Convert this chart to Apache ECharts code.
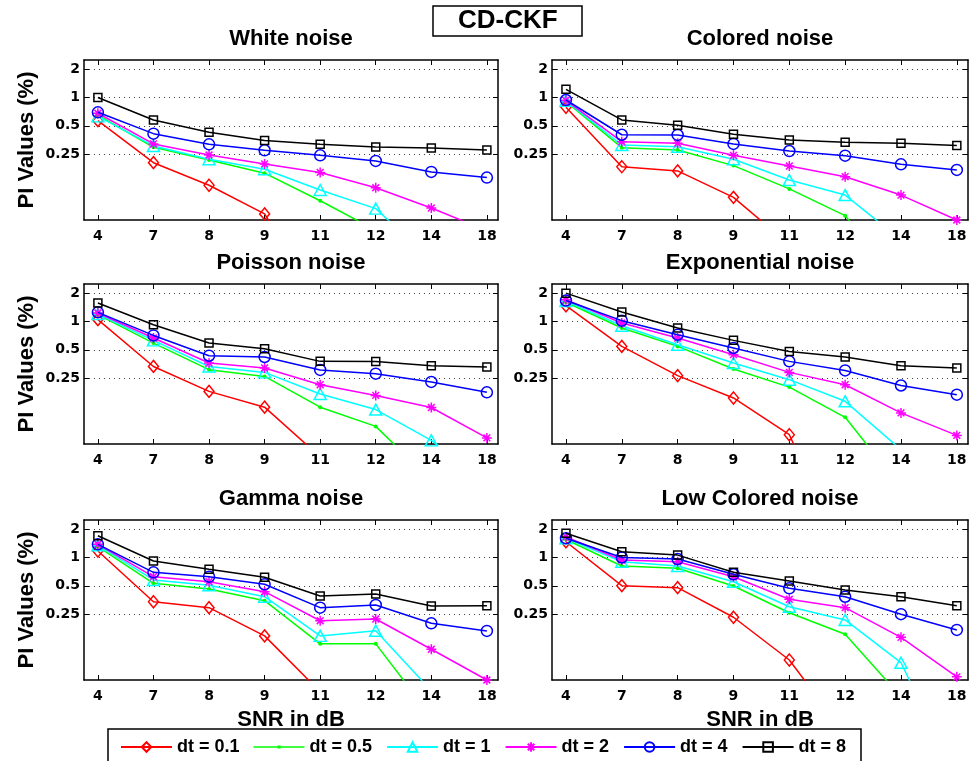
<!DOCTYPE html>
<html>
<head>
<meta charset="utf-8">
<script src="https://cdn.jsdelivr.net/npm/echarts@6/dist/echarts.min.js"></script>
<style>
  html, body { margin: 0; padding: 0; background: #fff; }
  #chart { width: 974px; height: 761px; }
</style>
</head>
<body>
<div id="chart"></div>
<script>
// SNR levels on the x axis (evenly spaced, one slot per level)
const snrLabels = ['4', '7', '8', '9', '11', '12', '14', '18'];
// sampling steps, one curve each
const seriesNames = ['dt = 0.1', 'dt = 0.5', 'dt = 1', 'dt = 2', 'dt = 4', 'dt = 8'];
const panelTitles = ['White noise', 'Colored noise', 'Poisson noise', 'Exponential noise', 'Gamma noise', 'Low Colored noise'];
const yTickValues = [0.25, 0.5, 1, 2];

// PI values (%) per noise type; rows follow seriesNames, columns follow snrLabels
const whiteNoise = [
  [0.567, 0.203, 0.117, 0.058, 0.0068, 0.004, 0.002, 0.001],
  [0.65, 0.296, 0.217, 0.157, 0.080, 0.039, 0.02, 0.01],
  [0.63, 0.306, 0.221, 0.173, 0.104, 0.066, 0.019, 0.01],
  [0.68, 0.321, 0.245, 0.197, 0.160, 0.110, 0.067, 0.0385],
  [0.696, 0.413, 0.318, 0.275, 0.243, 0.212, 0.162, 0.141],
  [1.0, 0.577, 0.427, 0.35, 0.318, 0.298, 0.29, 0.277]
];
const coloredNoise = [
  [0.786, 0.184, 0.166, 0.087, 0.0274, 0.012, 0.006, 0.003],
  [0.90, 0.293, 0.277, 0.189, 0.107, 0.0556, 0.0107, 0.005],
  [0.92, 0.313, 0.30, 0.221, 0.133, 0.092, 0.0308, 0.015],
  [0.93, 0.339, 0.326, 0.243, 0.187, 0.144, 0.092, 0.05],
  [0.94, 0.402, 0.40, 0.321, 0.27, 0.241, 0.195, 0.17],
  [1.22, 0.577, 0.506, 0.406, 0.354, 0.334, 0.326, 0.31]
];
const poissonNoise = [
  [1.045, 0.333, 0.181, 0.123, 0.0365, 0.015, 0.007, 0.003],
  [1.18, 0.59, 0.308, 0.261, 0.123, 0.0769, 0.0205, 0.008],
  [1.2, 0.63, 0.333, 0.288, 0.17, 0.116, 0.0546, 0.02],
  [1.23, 0.667, 0.362, 0.321, 0.213, 0.164, 0.122, 0.058],
  [1.25, 0.711, 0.433, 0.42, 0.306, 0.279, 0.228, 0.177],
  [1.57, 0.924, 0.591, 0.514, 0.377, 0.375, 0.339, 0.329]
];
const exponentialNoise = [
  [1.47, 0.544, 0.266, 0.154, 0.0627, 0.0033, 0.002, 0.001],
  [1.6, 0.853, 0.544, 0.313, 0.201, 0.096, 0.0173, 0.008],
  [1.65, 0.902, 0.567, 0.362, 0.241, 0.142, 0.0436, 0.02],
  [1.7, 0.963, 0.667, 0.444, 0.288, 0.213, 0.107, 0.0617],
  [1.67, 1.02, 0.724, 0.523, 0.377, 0.302, 0.209, 0.167],
  [2.0, 1.26, 0.853, 0.63, 0.481, 0.42, 0.339, 0.321]
];
const gammaNoise = [
  [1.17, 0.339, 0.293, 0.147, 0.0375, 0.015, 0.007, 0.003],
  [1.3, 0.532, 0.463, 0.348, 0.121, 0.121, 0.0205, 0.008],
  [1.35, 0.577, 0.506, 0.383, 0.147, 0.167, 0.0385, 0.015],
  [1.38, 0.625, 0.553, 0.433, 0.213, 0.222, 0.106, 0.05],
  [1.38, 0.696, 0.625, 0.519, 0.293, 0.313, 0.2, 0.166],
  [1.70, 0.918, 0.749, 0.616, 0.39, 0.41, 0.306, 0.308]
];
const lowColoredNoise = [
  [1.47, 0.502, 0.478, 0.232, 0.0815, 0.0133, 0.006, 0.003],
  [1.55, 0.812, 0.767, 0.498, 0.259, 0.153, 0.0332, 0.01],
  [1.6, 0.902, 0.812, 0.553, 0.3, 0.217, 0.0763, 0.0045],
  [1.65, 0.94, 0.902, 0.625, 0.36, 0.293, 0.142, 0.054],
  [1.6, 1.0, 0.963, 0.663, 0.471, 0.383, 0.25, 0.17],
  [1.81, 1.15, 1.06, 0.696, 0.563, 0.452, 0.383, 0.308]
];

const panels = [whiteNoise, coloredNoise, poissonNoise, exponentialNoise, gammaNoise, lowColoredNoise];

// line colour + marker for each dt
const ASTERISK = 'path://M5,0L5,10M0,5L10,5M1.6,1.6L8.4,8.4M1.6,8.4L8.4,1.6';
// legend swatch for the point-marker curve: a line with a tiny dot in the middle
const DOT_LINE_ICON = 'path://M0,0M51,12M0,5.25L51,5.25L51,6.75L0,6.75ZM24,4.5L27,4.5L27,7.5L24,7.5Z';
const curveStyles = [
  { color: '#ff0000', symbol: 'diamond', size: [10, 12], hollow: true },
  { color: '#00ff00', symbol: 'circle', size: 4, hollow: false, legendIcon: DOT_LINE_ICON },
  { color: '#00ffff', symbol: 'triangle', size: [12, 11], hollow: true },
  { color: '#ff00ff', symbol: ASTERISK, size: 10, hollow: true },
  { color: '#0000ff', symbol: 'circle', size: 11, hollow: true },
  { color: '#000000', symbol: 'rect', size: 8, hollow: true }
];

const SANS = '"Liberation Sans", Arial, Helvetica, sans-serif';
const TICK_FONT = '"DejaVu Sans", Verdana, sans-serif';

const gridLeft = [84, 552];
const gridWidth = [414, 416];
const gridTop = [60, 284, 520];
const gridHeight = 160;

const xIndexValues = snrLabels.map((_, k) => k);

const grids = [], xAxes = [], yAxes = [], series = [], titles = [];

titles.push({
  text: 'CD-CKF',
  left: 433, top: 6,
  padding: [2, 25, 2, 25],
  borderColor: '#000', borderWidth: 1.5,
  textStyle: { fontFamily: SANS, fontSize: 26, fontWeight: 'bold', color: '#000' }
});

panels.forEach((rows, i) => {
  const col = i % 2, row = Math.floor(i / 2);
  grids.push({
    left: gridLeft[col], top: gridTop[row], width: gridWidth[col], height: gridHeight,
    containLabel: false, outerBoundsMode: 'none'
  });
  titles.push({
    text: panelTitles[i],
    left: gridLeft[col] + gridWidth[col] / 2,
    top: gridTop[row] - 32,
    textAlign: 'center',
    padding: 0,
    textStyle: { fontFamily: SANS, fontSize: 22, fontWeight: 'bold', color: '#000' }
  });
});

const axisLine = { show: true, onZero: false, lineStyle: { color: '#000', width: 1.5 } };

// bottom x axes
panels.forEach((_, i) => {
  const row = Math.floor(i / 2);
  xAxes.push({
    type: 'value', gridIndex: i, position: 'bottom',
    min: -0.25, max: 7.2,
    axisLine: axisLine,
    axisTick: { show: true, inside: true, length: 5, customValues: xIndexValues, lineStyle: { color: '#000', width: 1 } },
    axisLabel: {
      customValues: xIndexValues, margin: 9,
      formatter: v => snrLabels[Math.round(v)],
      fontFamily: TICK_FONT, fontSize: 14, fontWeight: 'bold', color: '#000'
    },
    splitLine: { show: false },
    name: row === 2 ? 'SNR in dB' : '',
    nameLocation: 'middle', nameGap: 29, nameMoveOverlap: false,
    nameTextStyle: { fontFamily: SANS, fontSize: 22, fontWeight: 'bold', color: '#000' }
  });
});
// top x axes (box edge with inward ticks)
panels.forEach((_, i) => {
  xAxes.push({
    type: 'value', gridIndex: i, position: 'top',
    min: -0.25, max: 7.2,
    axisLine: axisLine,
    axisTick: { show: true, inside: true, length: 5, customValues: xIndexValues, lineStyle: { color: '#000', width: 1 } },
    axisLabel: { show: false, customValues: xIndexValues },
    splitLine: { show: false }
  });
});
// left y axes (log scale)
panels.forEach((_, i) => {
  const col = i % 2;
  yAxes.push({
    type: 'log', logBase: 2, gridIndex: i, position: 'left',
    min: 0.05, max: 2.5,
    axisLine: axisLine,
    axisTick: { show: true, inside: true, length: 5, customValues: yTickValues, lineStyle: { color: '#000', width: 1 } },
    axisLabel: {
      customValues: yTickValues, margin: 4,
      formatter: v => String(v),
      fontFamily: TICK_FONT, fontSize: 14, fontWeight: 'bold', color: '#000'
    },
    splitLine: { show: true, lineStyle: { color: '#444', width: 1, type: [1, 4] } },
    minorTick: { show: false }, minorSplitLine: { show: false },
    name: col === 0 ? 'PI Values (%)' : '',
    nameLocation: 'middle', nameGap: 46, nameMoveOverlap: false,
    nameTextStyle: { fontFamily: SANS, fontSize: 22, fontWeight: 'bold', color: '#000' }
  });
});
// right y axes (box edge with inward ticks)
panels.forEach((_, i) => {
  yAxes.push({
    type: 'log', logBase: 2, gridIndex: i, position: 'right',
    min: 0.05, max: 2.5,
    axisLine: axisLine,
    axisTick: { show: true, inside: true, length: 5, customValues: yTickValues, lineStyle: { color: '#000', width: 1 } },
    axisLabel: { show: false, customValues: yTickValues },
    splitLine: { show: false }
  });
});

panels.forEach((rows, i) => {
  rows.forEach((values, s) => {
    const st = curveStyles[s];
    series.push({
      type: 'line',
      name: seriesNames[s],
      xAxisIndex: i, yAxisIndex: i,
      data: values.map((v, k) => [k, v]),
      symbol: st.symbol,
      symbolSize: st.size,
      showSymbol: true,
      clip: true,
      lineStyle: { color: st.color, width: 1.5 },
      itemStyle: st.hollow
        ? { color: 'rgba(255,255,255,0)', borderColor: st.color, borderWidth: 1.5 }
        : { color: st.color, borderColor: st.color, borderWidth: 0 },
      emphasis: { disabled: true },
      z: 2 + s
    });
  });
});

const legendData = seriesNames.map((name, s) =>
  curveStyles[s].legendIcon ? { name: name, icon: curveStyles[s].legendIcon } : { name: name }
);

const chart = echarts.init(document.getElementById('chart'), null, { renderer: 'canvas' });
chart.setOption({
  animation: false,
  backgroundColor: '#fff',
  title: titles,
  grid: grids,
  xAxis: xAxes,
  yAxis: yAxes,
  legend: {
    data: legendData,
    left: 120, top: 738,
    itemWidth: 51, itemHeight: 12, itemGap: 14,
    padding: 0,
    textStyle: { fontFamily: SANS, fontSize: 18, fontWeight: 'bold', color: '#000' },
    z: 10
  },
  graphic: [{
    type: 'rect', z: 5,
    shape: { x: 108, y: 729, width: 753, height: 40 },
    style: { fill: '#fff', stroke: '#000', lineWidth: 1.5 }
  }],
  series: series
});
</script>
</body>
</html>
